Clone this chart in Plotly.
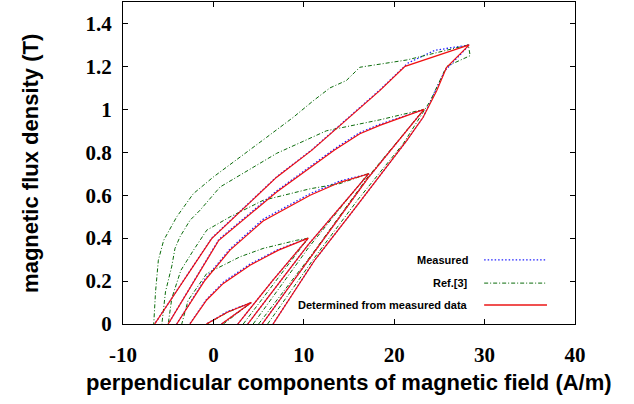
import plotly.graph_objects as go

# ---------------- axis ticks ----------------
x_tick_vals = [-10, 0, 10, 20, 30, 40]
x_tick_text = ["-10", "0", "10", "20", "30", "40"]
y_tick_vals = [0, 0.2, 0.4, 0.6, 0.8, 1.0, 1.2, 1.4]
y_tick_text = ["0", "0.2", "0.4", "0.6", "0.8", "1", "1.2", "1.4"]

series_names = ["Measured", "Ref.[3]", "Determined from measured data"]

# ---------------- Measured (blue dotted) : each loop = ascending branch then descending branch
meas_L1_H = [0.9, 4.2, 1.6, -0.8]
meas_L1_B = [0.0, 0.1, 0.059, 0.0]
meas_L2_H = [2.7, 6.5, 10.5, 7.2, 4.05, 1.1, -0.74, -2.62]
meas_L2_B = [0.0, 0.2, 0.4, 0.348, 0.279, 0.195, 0.116, 0.0]
meas_L3_H = [3.8, 10.5, 17.2, 14.0, 10.7, 5.5, 1.84, -1.0, -4.06]
meas_L3_B = [0.0, 0.37, 0.7, 0.666, 0.607, 0.488, 0.35, 0.205, 0.0]
meas_L4_H = [5.4, 10.5, 17.1, 23.3, 18.4, 16.2, 13.4, 7.0, 0.6, -5.0]
meas_L4_B = [0.0, 0.296, 0.68, 1.0, 0.93, 0.892, 0.816, 0.62, 0.394, 0.0]
meas_L5_H = [6.6, 11.2, 15.5, 21.4, 23.2, 24.5, 25.6, 27.2, 28.3, 24.5, 21.5, 18.4, 10.9, 7.0, -0.19, -6.5]
meas_L5_B = [0.0, 0.297, 0.53, 0.855, 0.963, 1.08, 1.18, 1.25, 1.3, 1.275, 1.215, 1.09, 0.812, 0.686, 0.4, 0.0]

# ---------------- Ref.[3] (green dash-dot)
ref_L1_H = [1.1, 4.2, 1.6, -0.7]
ref_L1_B = [0.0, 0.1, 0.055, 0.0]
ref_L2_H = [3.3, 10.5, 9.2, 5.5, 2.94, -0.74, -2.8, -3.5]
ref_L2_B = [0.0, 0.4, 0.39, 0.352, 0.313, 0.235, 0.11, 0.0]
ref_L3_H = [4.4, 10.6, 17.1, 14.0, 10.7, 5.5, 1.84, -0.74, -2.2, -3.6, -4.6, -5.0]
ref_L3_B = [0.0, 0.36, 0.7, 0.654, 0.63, 0.576, 0.499, 0.437, 0.344, 0.25, 0.12, 0.0]
ref_L4_H = [5.0, 11.0, 17.0, 20.5, 23.3, 18.4, 16.2, 12.5, 7.0, 4.4, 0.73, -1.48, -2.59, -3.7, -4.25, -4.6, -5.3, -5.7]
ref_L4_B = [0.0, 0.33, 0.68, 0.86, 1.0, 0.951, 0.933, 0.9, 0.795, 0.731, 0.638, 0.53, 0.483, 0.406, 0.352, 0.27, 0.15, 0.0]
ref_L5_H = [6.0, 11.2, 16.0, 21.0, 24.0, 25.1, 25.8, 28.4, 28.2, 21.4, 18.4, 16.2, 14.7, 12.9, 11.05, 8.84, 5.9, 2.94, 0.0, -2.22, -4.06, -5.5, -6.09, -6.4, -6.6]
ref_L5_B = [0.0, 0.31, 0.58, 0.84, 1.04, 1.134, 1.2, 1.25, 1.3, 1.23, 1.21, 1.196, 1.134, 1.1, 1.04, 0.963, 0.87, 0.777, 0.685, 0.607, 0.499, 0.39, 0.297, 0.15, 0.0]

# ---------------- Determined from measured data (red solid)
det_L1_H = [0.9, 4.2, 1.6, -0.78]
det_L1_B = [0.0, 0.1, 0.056, 0.0]
det_L2_H = [2.7, 6.5, 10.5, 7.2, 4.05, 1.1, -0.74, -2.6]
det_L2_B = [0.0, 0.2, 0.4, 0.344, 0.274, 0.189, 0.112, 0.0]
det_L3_H = [3.8, 10.5, 17.2, 14.0, 10.7, 5.5, 1.84, -1.0, -4.06]
det_L3_B = [0.0, 0.37, 0.7, 0.66, 0.6, 0.48, 0.344, 0.2, 0.0]
det_L4_H = [5.4, 10.5, 17.1, 23.3, 18.4, 16.2, 13.4, 7.0, 0.6, -5.0]
det_L4_B = [0.0, 0.296, 0.68, 1.0, 0.925, 0.886, 0.81, 0.615, 0.39, 0.0]
det_L5_H = [6.6, 11.2, 15.5, 21.4, 23.2, 24.7, 25.8, 28.3, 21.2, 18.4, 10.9, 7.0, -0.19, -6.5]
det_L5_B = [0.0, 0.297, 0.53, 0.855, 0.963, 1.087, 1.196, 1.3, 1.2, 1.087, 0.81, 0.684, 0.398, 0.0]


def join(hs, bs):
    xs, ys = [], []
    for h, b in zip(hs, bs):
        xs += list(h) + [None]
        ys += list(b) + [None]
    return xs, ys


meas_x, meas_y = join([meas_L1_H, meas_L2_H, meas_L3_H, meas_L4_H, meas_L5_H],
                      [meas_L1_B, meas_L2_B, meas_L3_B, meas_L4_B, meas_L5_B])
ref_x, ref_y = join([ref_L1_H, ref_L2_H, ref_L3_H, ref_L4_H, ref_L5_H],
                    [ref_L1_B, ref_L2_B, ref_L3_B, ref_L4_B, ref_L5_B])
det_x, det_y = join([det_L1_H, det_L2_H, det_L3_H, det_L4_H, det_L5_H],
                    [det_L1_B, det_L2_B, det_L3_B, det_L4_B, det_L5_B])

BLUE = "#2020ff"
GREEN = "#0a6b0a"
RED = "#f01010"
DASH_MEAS = "1.5px,2px"
DASH_REF = "4px,2px,1px,2px"

fig = go.Figure()
fig.add_trace(go.Scatter(x=meas_x, y=meas_y, mode="lines", name=series_names[0],
                         line=dict(color=BLUE, width=1.3, dash=DASH_MEAS), showlegend=False))
fig.add_trace(go.Scatter(x=ref_x, y=ref_y, mode="lines", name=series_names[1],
                         line=dict(color=GREEN, width=1.0, dash=DASH_REF), showlegend=False))
fig.add_trace(go.Scatter(x=det_x, y=det_y, mode="lines", name=series_names[2],
                         line=dict(color=RED, width=1.2), showlegend=False))

# ---------------- custom legend (text left of line sample)
leg_rows_y = [0.199, 0.127, 0.059]
leg_styles = [dict(color=BLUE, width=1.3, dash=DASH_MEAS),
              dict(color=GREEN, width=1.0, dash=DASH_REF),
              dict(color="#f05050", width=2)]
annotations = []
shapes = []
for name, yy, st in zip(series_names, leg_rows_y, leg_styles):
    annotations.append(dict(x=0.768, y=yy, xref="paper", yref="paper", text=name,
                            showarrow=False, xanchor="right", yanchor="middle",
                            font=dict(family="Liberation Sans", size=11, color="black", weight="bold")))
    shapes.append(dict(type="line", xref="paper", yref="paper", x0=0.799, x1=0.938,
                       y0=yy, y1=yy, line=st))

# axis titles
annotations.append(dict(x=0.5, xref="paper", y=-0.183, yref="paper",
                        text="perpendicular components of magnetic field (A/m)", showarrow=False,
                        xanchor="center", yanchor="middle",
                        font=dict(family="Liberation Sans", size=22, color="black", weight="bold")))
annotations.append(dict(x=-0.206, xref="paper", y=0.5, yref="paper",
                        text="magnetic flux density (T)", showarrow=False, textangle=-90,
                        xanchor="center", yanchor="middle",
                        font=dict(family="Liberation Sans", size=22, color="black", weight="bold")))

axis_common = dict(showline=True, linecolor="black", linewidth=1, mirror="ticks",
                   ticks="inside", ticklen=5, tickcolor="black", tickwidth=1,
                   showgrid=False, zeroline=False,
                   tickfont=dict(family="Liberation Serif", size=21, color="black", weight="bold"))

fig.update_layout(
    width=634, height=404,
    margin=dict(l=123, r=59, t=2, b=80),
    paper_bgcolor="white", plot_bgcolor="white",
    showlegend=False,
    xaxis=dict(range=[-10, 40], tickvals=x_tick_vals, ticktext=x_tick_text,
               ticklabelstandoff=12, **axis_common),
    yaxis=dict(range=[0, 1.5], tickvals=y_tick_vals, ticktext=y_tick_text,
               ticklabelstandoff=6, **axis_common),
    annotations=annotations,
    shapes=shapes,
)

fig.write_html("out.html", config={"displayModeBar": False},
               post_script="document.body.style.margin='0';")
